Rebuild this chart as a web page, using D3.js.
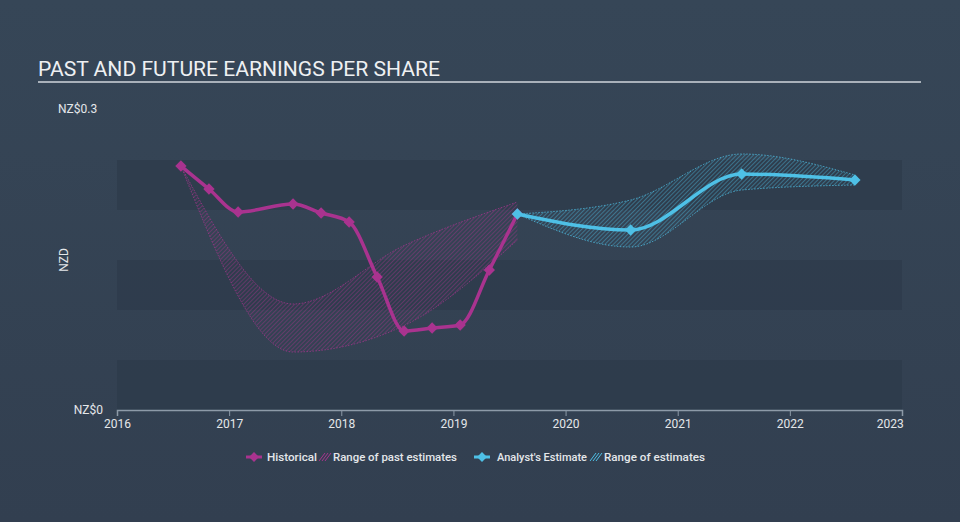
<!DOCTYPE html>
<html><head><meta charset="utf-8">
<script src="https://cdn.jsdelivr.net/npm/d3@7"></script>
<style>
html,body{margin:0;padding:0;background:#344456;}
svg{display:block;font-family:Roboto,"Noto Sans",sans-serif;}
</style></head>
<body>
<svg id="chart" width="960" height="522"></svg>
<script>
// ---- data ----
const xTicks = [2016, 2017, 2018, 2019, 2020, 2021, 2022, 2023];
const histYears = [2016.57, 2016.82, 2017.08, 2017.57, 2017.82, 2018.07, 2018.32, 2018.56, 2018.81, 2019.06, 2019.32, 2019.57];
const histEPS   = [0.244, 0.221, 0.198, 0.206, 0.197, 0.188, 0.133, 0.079, 0.082, 0.085, 0.140, 0.196];
const pastRangeYears = [2016.57, 2017.57, 2018.57, 2019.57];
const pastRangeLow   = [0.244, 0.058, 0.085, 0.170];
const pastRangeHigh  = [0.244, 0.106, 0.165, 0.208];
const estYears = [2019.57, 2020.58, 2021.57, 2022.58];
const estEPS   = [0.196, 0.180, 0.236, 0.230];
const estLow   = [0.196, 0.163, 0.220, 0.225];
const estHigh  = [0.196, 0.210, 0.256, 0.235];
const yLabels = ["NZ$0", "NZ$0.3"];

const MAG = "#a9338f", BLUE = "#4ec0e6";
const svg = d3.select("#chart");
const W = 960, H = 522;

const defs = svg.append("defs");
const bg = defs.append("linearGradient").attr("id","bg").attr("x1",0).attr("y1",0).attr("x2",0).attr("y2",1);
bg.append("stop").attr("offset","0%").attr("stop-color","#364657");
bg.append("stop").attr("offset","100%").attr("stop-color","#323f50");
function hatch(id, color){
  const p = defs.append("pattern").attr("id",id).attr("patternUnits","userSpaceOnUse")
    .attr("width",3).attr("height",3).attr("patternTransform","rotate(45)");
  p.append("line").attr("x1",0).attr("y1",0).attr("x2",0).attr("y2",3)
    .attr("stroke",color).attr("stroke-width",1).attr("stroke-opacity",0.8);
}
hatch("hatchMag", MAG);
hatch("hatchBlue", BLUE);

svg.append("rect").attr("width",W).attr("height",H).attr("fill","url(#bg)");

const x = d3.scaleLinear().domain([2016, 2023]).range([117, 902]);
const y = d3.scaleLinear().domain([0, 0.3]).range([410, 110]);

// bands
const bandEdges = [0.25, 0.2, 0.15, 0.1, 0.05, 0];
for (let i = 0; i < bandEdges.length - 1; i++) {
  if (i % 2 === 0) {
    svg.append("rect").attr("x", x(2016)).attr("width", x(2023) - x(2016))
      .attr("y", y(bandEdges[i])).attr("height", y(bandEdges[i+1]) - y(bandEdges[i]))
      .attr("fill", "#2e3b4b").attr("opacity", 0.75);
  }
}

// title
svg.append("text").attr("x",38).attr("y",76).attr("fill","#eef0f2")
  .attr("font-size",21).attr("textLength",402).attr("lengthAdjust","spacingAndGlyphs")
  .text("PAST AND FUTURE EARNINGS PER SHARE");
svg.append("line").attr("x1",38).attr("x2",921).attr("y1",82).attr("y2",82)
  .attr("stroke","#a9b1ba").attr("stroke-width",2);

// y labels
svg.append("text").attr("x",58).attr("y",113).attr("fill","#e4e7ea").attr("font-size",12).text(yLabels[1]);
svg.append("text").attr("x",103).attr("y",414).attr("fill","#e4e7ea").attr("font-size",12)
  .attr("text-anchor","end").text(yLabels[0]);
svg.append("text").attr("transform","translate(68,260) rotate(-90)").attr("text-anchor","middle")
  .attr("fill","#e4e7ea").attr("font-size",12).text("NZD");

// x axis
const xAxis = svg.append("g").attr("transform","translate(0,410)")
  .call(d3.axisBottom(x).tickValues(xTicks).tickFormat(d3.format("d")).tickSize(6).tickPadding(3));
xAxis.select(".domain").attr("stroke","#8d9aa8").attr("stroke-width",1.5);
xAxis.selectAll(".tick line").attr("stroke","#8d9aa8");
xAxis.selectAll(".tick text").attr("fill","#e4e7ea").attr("font-size",12)
  .attr("font-family","Roboto,sans-serif")
  .attr("text-anchor", (d,i) => i === xTicks.length-1 ? "end" : "middle")
  .attr("dx", (d,i) => i === xTicks.length-1 ? "0.1em" : 0);

// ranges
function rangeArea(years, lo, hi, fillId, color){
  const data = years.map((yr,i)=>({yr, lo:lo[i], hi:hi[i]}));
  const area = d3.area().curve(d3.curveMonotoneX).x(d=>x(d.yr)).y0(d=>y(d.lo)).y1(d=>y(d.hi));
  svg.append("path").datum(data).attr("d",area).attr("fill","url(#"+fillId+")");
  const lLo = d3.line().curve(d3.curveMonotoneX).x(d=>x(d.yr)).y(d=>y(d.lo));
  const lHi = d3.line().curve(d3.curveMonotoneX).x(d=>x(d.yr)).y(d=>y(d.hi));
  [lLo, lHi].forEach(l => svg.append("path").datum(data).attr("d",l).attr("fill","none")
    .attr("stroke",color).attr("stroke-width",0.8).attr("stroke-dasharray","1.5,1.5").attr("opacity",0.9));
}
rangeArea(pastRangeYears, pastRangeLow, pastRangeHigh, "hatchMag", MAG);
rangeArea(estYears, estLow, estHigh, "hatchBlue", BLUE);

// lines
const marker = d3.symbol(d3.symbolSquare, 64);
function series(years, vals, color){
  const data = years.map((yr,i)=>({yr, v:vals[i]}));
  svg.append("path").datum(data)
    .attr("d", d3.line().curve(d3.curveMonotoneX).x(d=>x(d.yr)).y(d=>y(d.v)))
    .attr("fill","none").attr("stroke",color).attr("stroke-width",3.5).attr("stroke-linejoin","round");
  svg.append("g").selectAll("path").data(data).join("path")
    .attr("d", marker)
    .attr("transform", d=>`translate(${x(d.yr)},${y(d.v)}) rotate(45)`)
    .attr("fill",color);
}
series(histYears, histEPS, MAG);
series(estYears, estEPS, BLUE);

// legend
const lg = svg.append("g").attr("font-size",11.5).attr("fill","#e4e7ea").attr("font-weight",500);
function legLine(x0, color){
  lg.append("line").attr("x1",x0).attr("x2",x0+16).attr("y1",457).attr("y2",457)
    .attr("stroke",color).attr("stroke-width",3);
  lg.append("path").attr("d", d3.symbol(d3.symbolSquare, 48)).attr("transform",`translate(${x0+8},457) rotate(45)`).attr("fill",color);
}
function legHatch(x0, color){
  for (let k=0;k<3;k++){
    lg.append("line").attr("x1",x0+k*3).attr("y1",461).attr("x2",x0+k*3+6).attr("y2",453)
      .attr("stroke",color).attr("stroke-width",1);
  }
}
legLine(246, MAG);
lg.append("text").attr("x",267).attr("y",461).attr("textLength",50).attr("lengthAdjust","spacingAndGlyphs").text("Historical");
legHatch(319, MAG);
lg.append("text").attr("x",333).attr("y",461).attr("textLength",124).attr("lengthAdjust","spacingAndGlyphs").text("Range of past estimates");
legLine(474, BLUE);
lg.append("text").attr("x",497).attr("y",461).attr("textLength",90).attr("lengthAdjust","spacingAndGlyphs").text("Analyst's Estimate");
legHatch(590, BLUE);
lg.append("text").attr("x",604).attr("y",461).attr("textLength",101).attr("lengthAdjust","spacingAndGlyphs").text("Range of estimates");
</script>
</body></html>
